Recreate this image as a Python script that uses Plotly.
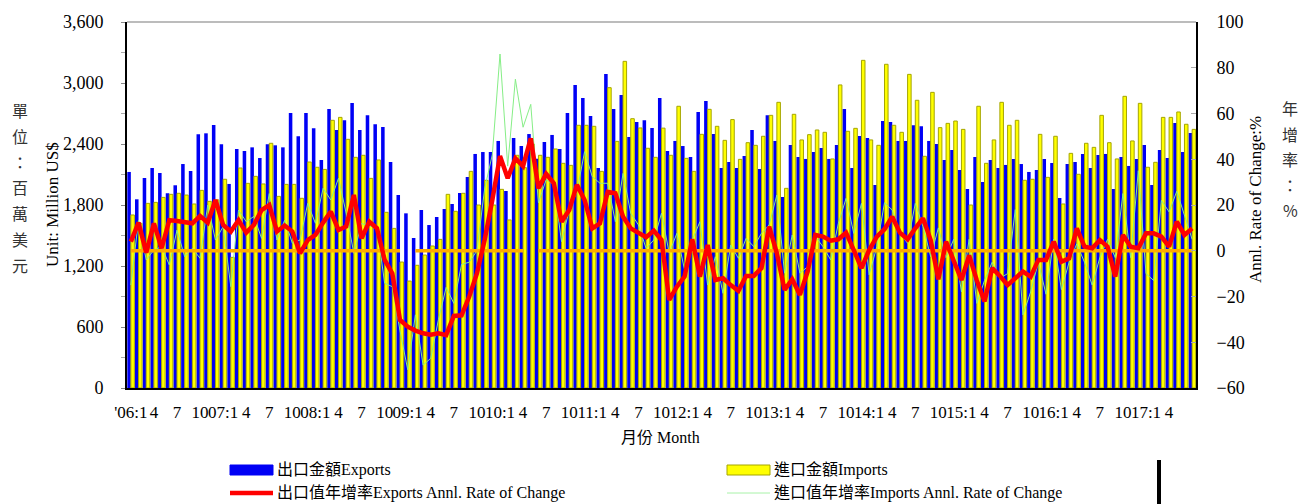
import plotly.graph_objects as go

# ---------------- data (monthly, 2006:1 .. 2017:7) ----------------
exports = [2125, 1856, 2066, 2164, 2115, 1915, 1994, 2203, 2135, 2495, 2505, 2587,
           2397, 2007, 2351, 2331, 2367, 2262, 2397, 2387, 2367, 2705, 2476, 2705,
           2554, 2243, 2744, 2538, 2633, 2803, 2538, 2682, 2594, 2567, 2223, 1898,
           1718, 1475, 1751, 1603, 1682, 1761, 1810, 1918, 2076, 2302, 2321, 2321,
           2430, 1938, 2459, 2380, 2498, 2256, 2420, 2489, 2351, 2705, 2981, 2853,
           2676, 2164, 3089, 2744, 2882, 2469, 2617, 2633, 2558, 2853, 2331, 2430,
           2380, 2272, 2715, 2823, 2498, 2164, 2223, 2164, 2282, 2538, 2154, 2682,
           2430, 1879, 2390, 2272, 2253, 2321, 2361, 2253, 2390, 2744, 2164, 2479,
           2459, 1997, 2626, 2617, 2430, 2430, 2584, 2574, 2430, 2400, 2243, 2341,
           2144, 1957, 2272, 2026, 2243, 2164, 2194, 2253, 2203, 2125, 2144, 2253,
           2213, 1869, 2203, 2223, 2302, 2164, 2292, 2302, 1957, 2272, 2184, 2253,
           2390, 1997, 2341, 2262, 2607, 2321, 2508]

imports = [1702, 1620, 1816, 1826, 1875, 1905, 1915, 1898, 1810, 1944, 1836, 1850,
           2053, 1285, 2164, 2013, 2082, 2007, 2407, 1885, 2003, 2003, 1866, 2223,
           2171, 2150, 2633, 2662, 2446, 2269, 2289, 2062, 2243, 1728, 1570, 1239,
           1052, 1207, 1308, 1397, 1462, 1905, 1738, 1915, 2131, 1800, 2043, 1800,
           1954, 1653, 2289, 2167, 2400, 2289, 2269, 2351, 2210, 2190, 2584, 2584,
           2574, 2131, 2954, 2426, 3213, 2649, 2558, 2358, 2269, 2556, 2289, 2771,
           2259, 2131, 2495, 2741, 2574, 2436, 2640, 2249, 2413, 2387, 2476, 2682,
           2810, 1964, 2692, 2440, 2492, 2538, 2515, 2253, 2981, 2525, 2554, 3223,
           2440, 2387, 3184, 2584, 2515, 3085, 2830, 2279, 2908, 2561, 2603, 2626,
           2544, 1800, 2771, 2210, 2440, 2810, 2584, 2633, 2043, 2053, 2495, 2072,
           2476, 1810, 2308, 2102, 2407, 2367, 2682, 2413, 2253, 2869, 2430, 2800,
           2171, 2220, 2662, 2662, 2715, 2594, 2544]

export_growth = [4.0, 12.3, -0.8, 12.0, 1.1, 13.4, 13.0, 12.6, 12.0, 15.2, 12.3, 22.2,
                 11.3, 8.4, 13.4, 7.9, 11.3, 17.8, 20.0, 8.4, 11.0, 8.4, -1.1, 4.7,
                 6.9, 12.3, 17.1, 9.1, 10.6, 24.4, 5.4, 12.7, 9.8, -4.0, -10.0, -30.3,
                 -33.2, -34.9, -36.1, -36.7, -36.1, -36.9, -28.5, -28.2, -20.0, -9.9, 4.7, 22.2,
                 41.4, 31.7, 40.4, 37.0, 49.1, 27.3, 33.6, 29.5, 12.7, 17.8, 28.8, 22.2,
                 9.8, 12.0, 25.7, 25.1, 14.9, 9.8, 7.9, 5.9, 8.8, 4.7, -21.5, -15.7,
                 -11.3, 5.0, -11.3, 2.5, -12.8, -12.0, -15.0, -17.5, -11.0, -11.0, -7.6, 10.5,
                 -1.1, -17.1, -12.5, -19.3, -9.1, 6.9, 6.2, 4.4, 5.0, 7.9, 0.3, -7.6,
                 0.3, 6.2, 9.4, 14.9, 7.9, 5.0, 9.8, 14.2, 4.7, -12.5, 4.0, -4.0,
                 -12.8, -2.0, -13.0, -22.2, -7.6, -11.0, -15.0, -12.0, -9.1, -11.3, -4.0, -4.0,
                 4.0, -4.8, -3.3, 9.8, 1.8, 1.1, 4.7, 1.8, -11.3, 6.9, 1.8, 1.1,
                 7.6, 7.6, 6.2, 1.8, 12.7, 6.9, 9.8]

import_growth = [-15.0, 13.4, -4.0, 0.3, 1.8, -6.2, 9.0, -2.6, 1.0, -3.3, 20.0, 4.7,
                 10.5, -15.7, 17.8, 12.7, 15.0, 5.4, 25.0, 4.7, 13.4, 3.3, 4.7, 20.7,
                 12.0, 27.3, 22.2, 31.7, 16.4, -1.1, 12.0, 10.6, 10.6, -14.2, -15.7, -35.0,
                 -52.0, -28.0, -50.0, -47.0, -30.0, -16.0, -23.0, -6.0, -5.0, 0.0, 27.0, 42.0,
                 86.0, 37.0, 75.0, 54.0, 64.0, 21.0, 31.0, 29.0, 4.0, 17.8, 25.8, 43.3,
                 32.4, 29.5, 29.5, 12.7, 33.8, 16.4, 11.3, 1.0, 4.7, 16.4, -1.0, 7.6,
                 -8.4, 4.7, 12.7, -15.0, -2.6, -18.6, 2.5, -3.3, 5.4, 1.8, 7.6, 11.3,
                 24.4, -9.8, 6.9, -9.8, -7.0, 6.2, 1.8, -4.0, 12.0, 22.9, 7.6, 20.7,
                 -10.5, 1.8, 21.0, 17.8, 7.6, 3.3, 20.7, 10.6, -2.6, 10.0, -3.0, 5.0,
                 -18.0, 5.0, -23.0, -13.0, -5.0, -12.0, -10.0, 18.0, -28.0, -18.0, -5.0, -19.0,
                 5.0, -17.0, -5.0, 3.0, -5.0, -15.0, -3.0, 5.0, -3.0, 25.0, -3.0, 35.0,
                 -10.0, -13.0, 22.0, 17.0, 26.0, 15.0, 5.0]

start_year = 2006
n = len(exports)
months = list(range(1, n + 1))
zero_gap_months = [37, 53]   # months where the 0% reference line is broken

# tick labels every 3 months (last shown label is 2017:4)
tick_vals, tick_text = [], []
for m in range(1, 137, 3):
    yr = start_year + (m - 1) // 12
    mo = (m - 1) % 12 + 1
    if mo == 1:
        lab = ("'" if yr == start_year else "") + f"{yr % 100:02d}:1"
    else:
        lab = str(mo)
    tick_vals.append(m)
    tick_text.append(lab)

zero_line = [None if m in zero_gap_months else 0 for m in months]

FONT = "Liberation Serif, 'Times New Roman', 'Noto Sans CJK TC', serif"
CJK = "'Noto Sans CJK TC', 'Liberation Serif', serif"

fig = go.Figure()
fig.add_trace(go.Bar(x=months, y=exports, name="出口金額Exports",
                     marker=dict(color="#0000F5", line=dict(width=0)), yaxis="y"))
fig.add_trace(go.Bar(x=months, y=imports, name="進口金額Imports",
                     marker=dict(color="#FFFF00", line=dict(color="#A5A500", width=1)), yaxis="y"))
fig.add_trace(go.Scatter(x=months, y=import_growth, mode="lines", yaxis="y2",
                         line=dict(color="#86EE86", width=1), name="進口值年增率"))
fig.add_trace(go.Scatter(x=months, y=zero_line, mode="lines", yaxis="y2", connectgaps=False,
                         line=dict(color="#FFAA00", width=3.5), name="zero"))
fig.add_trace(go.Scatter(x=months, y=export_growth, mode="lines", yaxis="y2",
                         line=dict(color="#FF0000", width=4.5), name="出口值年增率"))

W, H = 1301, 504
L, R, T, B = 127, 1196, 22, 388      # plot area in page pixels


def px(x):
    return (x - L) / (R - L)


def py(y):
    return (B - y) / (B - T)


ann = []
# stacked CJK titles
for i, ch in enumerate("單位：百萬美元"):
    ann.append(dict(x=px(20), y=py(110 + i * 25.8), text=ch, showarrow=False,
                    xref="paper", yref="paper", xanchor="center", yanchor="middle",
                    font=dict(family=CJK, size=16, color="#333333")))
for i, ch in enumerate("年增率：%"):
    ann.append(dict(x=px(1290), y=py(108 + i * 25.5), text=ch, showarrow=False,
                    xref="paper", yref="paper", xanchor="center", yanchor="middle",
                    font=dict(family=CJK, size=16, color="#333333")))
ann.append(dict(x=px(52), y=py(205), text="Unit: Million US$", textangle=-90, showarrow=False,
                xref="paper", yref="paper", xanchor="center", yanchor="middle",
                font=dict(family=FONT, size=17, color="#000000")))
ann.append(dict(x=px(1255), y=py(200), text="Annl. Rate of Change:%", textangle=-90, showarrow=False,
                xref="paper", yref="paper", xanchor="center", yanchor="middle",
                font=dict(family=FONT, size=17, color="#000000")))
ann.append(dict(x=px(660), y=py(437), text="月份 Month", showarrow=False,
                xref="paper", yref="paper", xanchor="center", yanchor="middle",
                font=dict(family=FONT, size=16, color="#000000")))

# manual legend
legend_items = [
    (230, 470, "rect", "#0000F5", None, "出口金額Exports"),
    (727, 470, "rect", "#FFFF00", "#A5A500", "進口金額Imports"),
    (230, 493, "line", "#FF0000", 4.5, "出口值年增率Exports Annl. Rate of Change"),
    (727, 493, "line", "#A8F2A8", 1, "進口值年增率Imports Annl. Rate of Change"),
]
shapes = []
for (lx, ly, kind, col, extra, label) in legend_items:
    if kind == "rect":
        shapes.append(dict(type="rect", xref="paper", yref="paper",
                           x0=px(lx), x1=px(lx + 43), y0=py(ly - 5), y1=py(ly + 5),
                           fillcolor=col, line=dict(color=extra or col, width=1)))
    else:
        shapes.append(dict(type="line", xref="paper", yref="paper",
                           x0=px(lx), x1=px(lx + 43), y0=py(ly), y1=py(ly),
                           line=dict(color=col, width=extra)))
    ann.append(dict(x=px(lx + 45), y=py(ly), text=label, showarrow=False,
                    xref="paper", yref="paper", xanchor="left", yanchor="middle",
                    font=dict(family=FONT, size=16, color="#000000")))

# frame: gray top border, stray black bar at bottom right
shapes.append(dict(type="line", xref="paper", yref="paper", x0=0, x1=1, y0=1, y1=1,
                   line=dict(color="#A6A6A6", width=1.5)))
shapes.append(dict(type="rect", xref="paper", yref="paper", x0=px(1157), x1=px(1161),
                   y0=py(504), y1=py(460), fillcolor="#000000", line=dict(width=0)))

fig.update_layout(
    width=W, height=H,
    margin=dict(l=L, r=W - R, t=T, b=H - B, autoexpand=False),
    paper_bgcolor="white", plot_bgcolor="white",
    barmode="group", bargap=0.08, bargroupgap=0.0,
    showlegend=False, hovermode=False,
    font=dict(family=FONT, size=17, color="#000000"),
    xaxis=dict(range=[0.5, n + 0.5], tickmode="array", tickvals=tick_vals, ticktext=tick_text,
               tickangle=0, showgrid=False, zeroline=False, showline=True, linecolor="#000000",
               linewidth=2, ticks="", ticklabelstandoff=8, automargin=False,
               tickfont=dict(family=FONT, size=17)),
    yaxis=dict(range=[0, 3600], dtick=600, tickformat=",d", showgrid=False, zeroline=False,
               showline=True, linecolor="#000000", linewidth=2, ticks="outside", ticklen=4,
               tickcolor="#888888", ticklabelstandoff=14, automargin=False,
               minor=dict(dtick=300, ticks="outside", ticklen=4, tickcolor="#AAAAAA"),
               tickfont=dict(family=FONT, size=18)),
    yaxis2=dict(range=[-60, 100], dtick=20, overlaying="y", side="right", showgrid=False,
                zeroline=False, showline=True, linecolor="#000000", linewidth=2,
                ticks="inside", ticklen=5, tickcolor="#AAAAAA", ticklabelstandoff=15,
                automargin=False, tickfont=dict(family=FONT, size=18)),
    annotations=ann, shapes=shapes,
)

# place the figure at the page origin so it fills the 1301x504 window exactly
fig.write_html("out.html", config={"displayModeBar": False},
               post_script="document.body.style.margin='0px';document.body.style.overflow='hidden';")
